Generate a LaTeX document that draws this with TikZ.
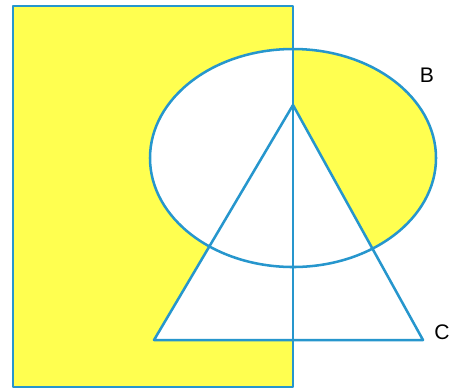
\documentclass[tikz,border=0pt]{standalone}
\usepackage{fontspec}
\setmainfont{Liberation Sans}
\usepackage{xcolor}
\definecolor{vblue}{RGB}{38,150,205}
\definecolor{vyellow}{RGB}{255,255,80}
\tikzset{
  setline/.style={
    draw=vblue, line width=1.8pt, line join=round
  },
  setlabel/.style={
    font=\fontsize{15}{17}\selectfont, inner sep=0pt
  }
}

\begin{document}
\begin{tikzpicture}[x=0.025cm, y=-0.025cm]
    \useasboundingbox (0,0) rectangle (451,391);

    %% ---- Corners of A, centre of B, vertices of C --------------------
    \coordinate (aNW)  at (13,6);
    \coordinate (aSE)  at (293,387);
    \coordinate (bCen) at (293,158);
    \coordinate (cTop) at (293,105);
    \coordinate (cLft) at (154,340);
    \coordinate (cRgt) at (423,340);

    %% ---- Shading: A only and B only ----------------------------------
    \fill[vyellow, even odd rule]
      (aNW) rectangle (aSE)
      (bCen) ellipse [x radius=143, y radius=109];
    \fill[white] (cTop) -- (cLft) -- (cRgt) -- cycle;

    %% ---- Outlines ----------------------------------------------------
    \draw[setline] (aNW) rectangle (aSE);
    \draw[setline] (bCen) ellipse [x radius=143, y radius=109];
    \draw[setline] (cTop) -- (cLft) -- (cRgt) -- cycle;

    %% ---- Labels ------------------------------------------------------
    \node[setlabel] (labB) at (427,75)  {B};
    \node[setlabel] (labC) at (442,332) {C};

\end{tikzpicture}
\end{document}
